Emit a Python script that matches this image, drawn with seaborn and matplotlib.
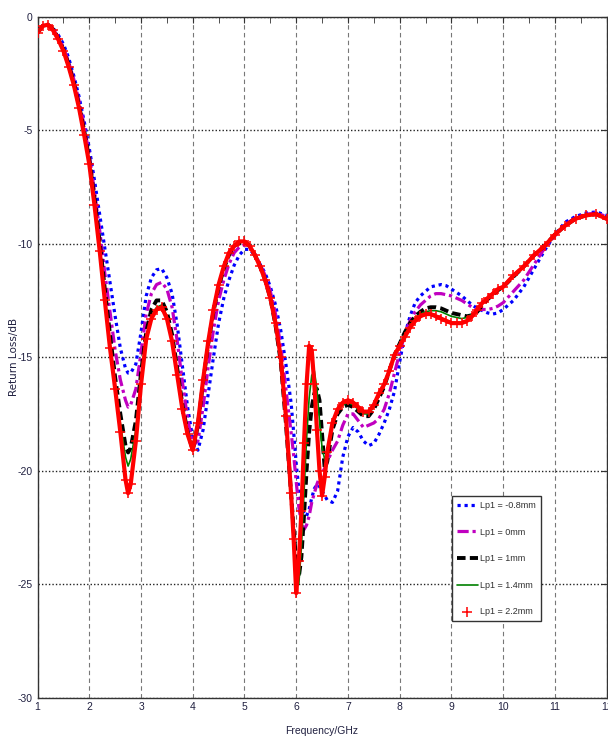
import matplotlib
matplotlib.use("Agg")
import matplotlib.pyplot as plt
import seaborn as sns

# frequency samples (GHz), finer around the 6 GHz notch
freq = [1.0, 1.1, 1.2, 1.3, 1.4, 1.5, 1.6, 1.7, 1.8, 1.9,
        2.0, 2.1, 2.2, 2.3, 2.4, 2.5, 2.6, 2.7, 2.75, 2.8,
        2.9, 3.0, 3.1, 3.2, 3.3, 3.4, 3.5, 3.6, 3.7, 3.8,
        3.9, 4.0, 4.1, 4.2, 4.3, 4.4, 4.5, 4.6, 4.7, 4.8,
        4.9, 5.0, 5.1, 5.2, 5.3, 5.4, 5.5, 5.6, 5.7, 5.8,
        5.9, 5.95, 6.0, 6.05, 6.1, 6.15, 6.2, 6.25, 6.3, 6.35,
        6.4, 6.45, 6.5, 6.55, 6.6, 6.7, 6.8, 6.9, 7.0, 7.1,
        7.2, 7.3, 7.4, 7.5, 7.6, 7.7, 7.8, 7.9, 8.0, 8.1,
        8.2, 8.3, 8.4, 8.5, 8.6, 8.7, 8.8, 8.9, 9.0, 9.1,
        9.2, 9.3, 9.4, 9.5, 9.6, 9.7, 9.8, 9.9, 10.0, 10.2,
        10.4, 10.6, 10.8, 11.0, 11.2, 11.4, 11.6, 11.8, 12.0]

# Lp1 = -0.8mm
lp_m08 = [-0.7, -0.4, -0.35, -0.5, -0.8, -1.2, -1.8, -2.6, -3.5, -4.6,
          -5.8, -7.2, -8.7, -10.2, -11.7, -13.2, -14.6, -15.5, -15.7, -15.7,
          -15.3, -13.9, -12.3, -11.5, -11.15, -11.1, -11.5, -12.2, -13.6, -15.4,
          -17.2, -18.6, -19.1, -18.2, -16.6, -15.0, -13.5, -12.4, -11.6, -10.95,
          -10.5, -10.25, -10.25, -10.5, -10.9, -11.3, -11.9, -12.7, -13.8, -15.3,
          -17.0, -18.3, -19.7, -20.8, -21.5, -21.9, -22.0, -21.7, -21.2, -20.8,
          -20.6, -20.7, -20.9, -21.1, -21.3, -21.4, -20.9, -19.4, -18.5, -18.1,
          -18.3, -18.7, -18.9, -18.8, -18.4, -17.9, -17.3, -16.5, -15.2, -14.0,
          -13.2, -12.6, -12.3, -12.1, -11.9, -11.85, -11.8, -11.85, -12.0, -12.15,
          -12.3, -12.5, -12.7, -12.85, -12.95, -13.05, -13.1, -13.05, -12.9, -12.5,
          -11.9, -11.1, -10.3, -9.6, -9.05, -8.8, -8.65, -8.6, -8.75]

# Lp1 = 0mm
lp_0 = [-0.7, -0.4, -0.35, -0.55, -0.9, -1.35, -2.0, -2.75, -3.7, -4.8,
        -6.1, -7.7, -9.4, -11.3, -13.0, -14.7, -16.0, -16.9, -17.2, -17.1,
        -16.4, -14.8, -13.1, -12.2, -11.8, -11.7, -12.0, -12.8, -14.3, -16.1,
        -17.7, -18.9, -18.7, -17.2, -15.4, -13.8, -12.5, -11.6, -10.9, -10.4,
        -10.15, -10.05, -10.15, -10.45, -10.9, -11.4, -12.1, -13.1, -14.5, -16.4,
        -18.3, -19.3, -20.5, -21.6, -22.3, -22.6, -22.4, -22.0, -21.4, -21.0,
        -20.6, -20.3, -20.1, -19.9, -19.6, -19.1, -18.7, -18.0, -17.5, -17.5,
        -17.8, -18.1, -18.0, -17.9, -17.7, -17.3, -16.6, -15.7, -14.8, -14.0,
        -13.4, -13.0, -12.7, -12.5, -12.3, -12.2, -12.2, -12.25, -12.3, -12.4,
        -12.5, -12.65, -12.8, -12.9, -12.9, -12.9, -12.85, -12.75, -12.6, -12.1,
        -11.6, -10.9, -10.2, -9.65, -9.15, -8.85, -8.7, -8.65, -8.8]

# Lp1 = 1mm
lp_1 = [-0.7, -0.4, -0.35, -0.55, -0.95, -1.45, -2.1, -2.9, -3.9, -5.0,
        -6.3, -8.0, -9.9, -12.0, -14.0, -15.9, -17.5, -18.9, -19.2, -19.0,
        -17.8, -15.7, -13.9, -12.9, -12.5, -12.5, -13.0, -14.0, -15.5, -17.1,
        -18.3, -19.1, -18.0, -16.1, -14.4, -13.0, -11.9, -11.1, -10.5, -10.1,
        -9.95, -9.9, -10.1, -10.5, -11.0, -11.6, -12.4, -13.6, -15.2, -17.9,
        -21.0, -22.6, -24.0, -24.7, -23.8, -22.0, -20.0, -18.3, -17.2, -16.6,
        -16.4, -16.9, -18.4, -19.9, -19.6, -18.2, -17.5, -17.2, -17.1, -17.2,
        -17.4, -17.6, -17.6, -17.3, -16.8, -16.3, -15.6, -14.9, -14.4, -13.9,
        -13.5, -13.2, -13.0, -12.85, -12.8, -12.8, -12.85, -12.95, -13.05, -13.1,
        -13.15, -13.2, -13.15, -13.0, -12.7, -12.45, -12.25, -12.05, -11.9, -11.45,
        -11.0, -10.5, -10.1, -9.6, -9.2, -8.9, -8.75, -8.7, -8.9]

# Lp1 = 1.4mm
lp_14 = [-0.7, -0.4, -0.35, -0.6, -1.0, -1.5, -2.2, -3.0, -4.0, -5.2,
         -6.5, -8.2, -10.2, -12.3, -14.4, -16.2, -17.9, -19.4, -19.8, -19.5,
         -18.2, -16.0, -14.1, -13.2, -12.8, -12.7, -13.2, -14.2, -15.7, -17.2,
         -18.4, -19.1, -17.9, -16.0, -14.3, -12.9, -11.8, -11.0, -10.4, -10.1,
         -9.9, -9.9, -10.1, -10.5, -11.0, -11.6, -12.4, -13.5, -15.0, -17.6,
         -20.8, -22.7, -24.6, -25.0, -23.4, -21.0, -18.6, -16.8, -15.8, -15.6,
         -16.4, -17.8, -19.0, -19.5, -19.2, -18.0, -17.4, -17.1, -17.0, -17.1,
         -17.3, -17.5, -17.5, -17.2, -16.7, -16.2, -15.6, -14.9, -14.4, -14.0,
         -13.6, -13.3, -13.1, -13.0, -12.95, -12.95, -13.0, -13.1, -13.2, -13.25,
         -13.3, -13.25, -13.1, -12.9, -12.6, -12.4, -12.2, -12.0, -11.9, -11.4,
         -11.0, -10.5, -10.1, -9.6, -9.2, -8.9, -8.75, -8.7, -8.9]

# Lp1 = 2.2mm
lp_22 = [-0.7, -0.4, -0.35, -0.6, -1.0, -1.5, -2.2, -3.0, -4.0, -5.2,
         -6.5, -8.3, -10.3, -12.5, -14.6, -16.4, -18.3, -20.4, -21.0, -20.6,
         -18.7, -16.2, -14.2, -13.3, -12.9, -12.8, -13.3, -14.3, -15.8, -17.3,
         -18.4, -19.1, -17.9, -16.0, -14.3, -12.9, -11.8, -11.0, -10.4, -10.1,
         -9.9, -9.9, -10.1, -10.5, -11.0, -11.6, -12.4, -13.5, -15.0, -17.6,
         -21.0, -23.0, -25.4, -24.0, -21.8, -18.8, -16.2, -14.5, -14.7, -16.2,
         -18.2, -20.0, -21.1, -20.3, -19.2, -17.9, -17.3, -17.0, -16.9, -17.0,
         -17.2, -17.4, -17.4, -17.1, -16.6, -16.2, -15.6, -14.9, -14.5, -14.1,
         -13.7, -13.4, -13.2, -13.1, -13.1, -13.2, -13.3, -13.4, -13.5, -13.5,
         -13.5, -13.4, -13.2, -12.9, -12.6, -12.4, -12.2, -12.0, -11.9, -11.4,
         -11.0, -10.5, -10.1, -9.6, -9.2, -8.9, -8.75, -8.7, -8.9]

labels = ["Lp1 = -0.8mm", "Lp1 = 0mm", "Lp1 = 1mm", "Lp1 = 1.4mm", "Lp1 = 2.2mm"]

sns.set_style("white")
plt.rcParams["font.family"] = ["Liberation Sans", "DejaVu Sans"]
plt.rcParams["axes.unicode_minus"] = False

fig = plt.figure(figsize=(6.08, 7.43), dpi=100)
ax = fig.add_axes([0.0618, 0.0612, 0.9359, 0.9162])

# line styles: (values, colour, linestyle, width)
styles = [
    (lp_m08, "#0000ff", (0, (1.0, 1.2)), 2.3),
    (lp_0, "#c000c0", (0, (3.5, 1.2, 1.0, 1.2)), 2.3),
    (lp_1, "black", (0, (2.2, 1.1)), 2.8),
    (lp_14, "#008000", "-", 1.2),
]
for (vals, col, ls, lw), lab in zip(styles, labels[:4]):
    sns.lineplot(x=freq, y=vals, color=col, ls=ls, lw=lw, label=lab, ax=ax)

# red stars drawn as a thick band plus markers
sns.lineplot(x=freq, y=lp_22, color="red", lw=3.0, ax=ax)
sns.scatterplot(x=freq, y=lp_22, marker="+", s=45, linewidth=1.1, color="red",
                label=labels[4], ax=ax, zorder=5)

ax.set_xlim(1, 12)
ax.set_ylim(-30, 0)
ax.set_xticks(range(1, 13))
ax.set_xticks([x + 0.5 for x in range(1, 12)], minor=True)
ax.set_yticks(range(-30, 1, 5))

ax.xaxis.grid(True, which="major", ls=(0, (4, 3)), color="#777777", lw=0.8)
ax.yaxis.grid(True, which="major", ls=(0, (1, 1.5)), color="#222222", lw=1.0)
ax.set_axisbelow(True)

ax.tick_params(axis="both", which="both", direction="in", top=True, right=True,
               labelsize=7.5, labelcolor="#202040", color="#333333")
ax.tick_params(axis="both", which="major", length=4)
ax.tick_params(axis="x", which="minor", length=4)
for sp in ax.spines.values():
    sp.set_color("#333333")
    sp.set_linewidth(1.0)

ax.set_xlabel("Frequency/GHz", fontsize=7.5, color="#202040", labelpad=10)
ax.set_ylabel("Return Loss/dB", fontsize=7.5, color="#202040", family="DejaVu Sans")
ax.yaxis.set_label_coords(-0.033, 0.5)

leg = ax.legend(loc="upper left", bbox_to_anchor=(0.728, 0.296), fontsize=6.5,
                frameon=True, fancybox=False, edgecolor="#333333", framealpha=1,
                labelspacing=1.95, handlelength=2.3, borderpad=0.55,
                handletextpad=0.3, borderaxespad=0)
leg.get_frame().set_linewidth(1.0)
for t in leg.get_texts():
    t.set_color("#303030")

fig.savefig("out.png", dpi=100)
